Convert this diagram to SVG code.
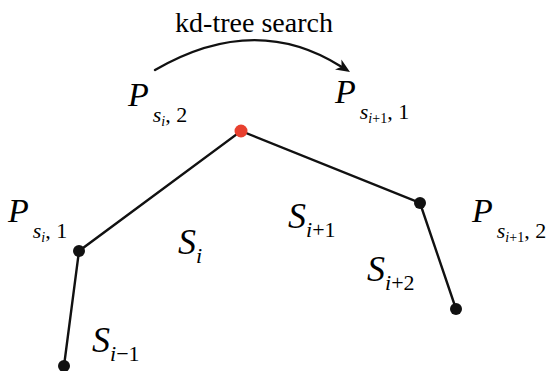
<svg xmlns="http://www.w3.org/2000/svg" width="547" height="371" viewBox="0 0 547 371" font-family="Liberation Serif">
<rect width="547" height="371" fill="#fff"/>
<g id="connectors" fill="none" stroke="#111" stroke-width="2.4" stroke-linecap="round">
<polyline points="64,366 79,251 241,131 420,203 456,309"/>
<path d="M155,70 Q255,12 341,66.5"/>
<polygon points="350,72 335,69.6 341.6,66.7 341.4,59.4" fill="#111" stroke="none"/>
</g>
<g id="p1"><circle fill="#111" cx="64" cy="366" r="6"/></g>
<g id="p2"><circle fill="#111" cx="79" cy="251" r="6"/></g>
<g id="p3"><circle cx="241" cy="131" r="6.5" fill="#e8402f"/></g>
<g id="p4"><circle fill="#111" cx="420" cy="203" r="6"/></g>
<g id="p5"><circle fill="#111" cx="456" cy="309" r="6"/></g>
<text x="254" y="32" font-size="28" text-anchor="middle" font-family="Liberation Serif">kd-tree search</text>
<text x="128" y="106" font-family="Liberation Serif"><tspan font-style="italic" font-size="34">P</tspan><tspan font-style="italic" font-size="22" dx="4" dy="16">s</tspan><tspan font-style="italic" font-size="14" dy="4">i</tspan><tspan font-size="22" dy="-4">, 2</tspan></text>
<text x="335" y="103" font-family="Liberation Serif"><tspan font-style="italic" font-size="34">P</tspan><tspan font-style="italic" font-size="22" dx="4" dy="16">s</tspan><tspan font-style="italic" font-size="14" dy="4">i</tspan><tspan font-size="14">+1</tspan><tspan font-size="22" dy="-4">, 1</tspan></text>
<text x="8" y="222" font-family="Liberation Serif"><tspan font-style="italic" font-size="34">P</tspan><tspan font-style="italic" font-size="22" dx="4" dy="16">s</tspan><tspan font-style="italic" font-size="14" dy="4">i</tspan><tspan font-size="22" dy="-4">, 1</tspan></text>
<text x="472" y="222" font-family="Liberation Serif"><tspan font-style="italic" font-size="34">P</tspan><tspan font-style="italic" font-size="22" dx="4" dy="16">s</tspan><tspan font-style="italic" font-size="14" dy="4">i</tspan><tspan font-size="14">+1</tspan><tspan font-size="22" dy="-4">, 2</tspan></text>
<text x="178" y="254" font-family="Liberation Serif"><tspan font-style="italic" font-size="36">S</tspan><tspan font-style="italic" font-size="22" dy="9">i</tspan></text>
<text x="288" y="228" font-family="Liberation Serif"><tspan font-style="italic" font-size="36">S</tspan><tspan font-style="italic" font-size="22" dy="9">i</tspan><tspan font-size="22">+1</tspan></text>
<text x="367" y="281" font-family="Liberation Serif"><tspan font-style="italic" font-size="36">S</tspan><tspan font-style="italic" font-size="22" dy="9">i</tspan><tspan font-size="22">+2</tspan></text>
<text x="92" y="352" font-family="Liberation Serif"><tspan font-style="italic" font-size="36">S</tspan><tspan font-style="italic" font-size="22" dy="9">i</tspan><tspan font-size="22">&#8722;1</tspan></text>
</svg>
